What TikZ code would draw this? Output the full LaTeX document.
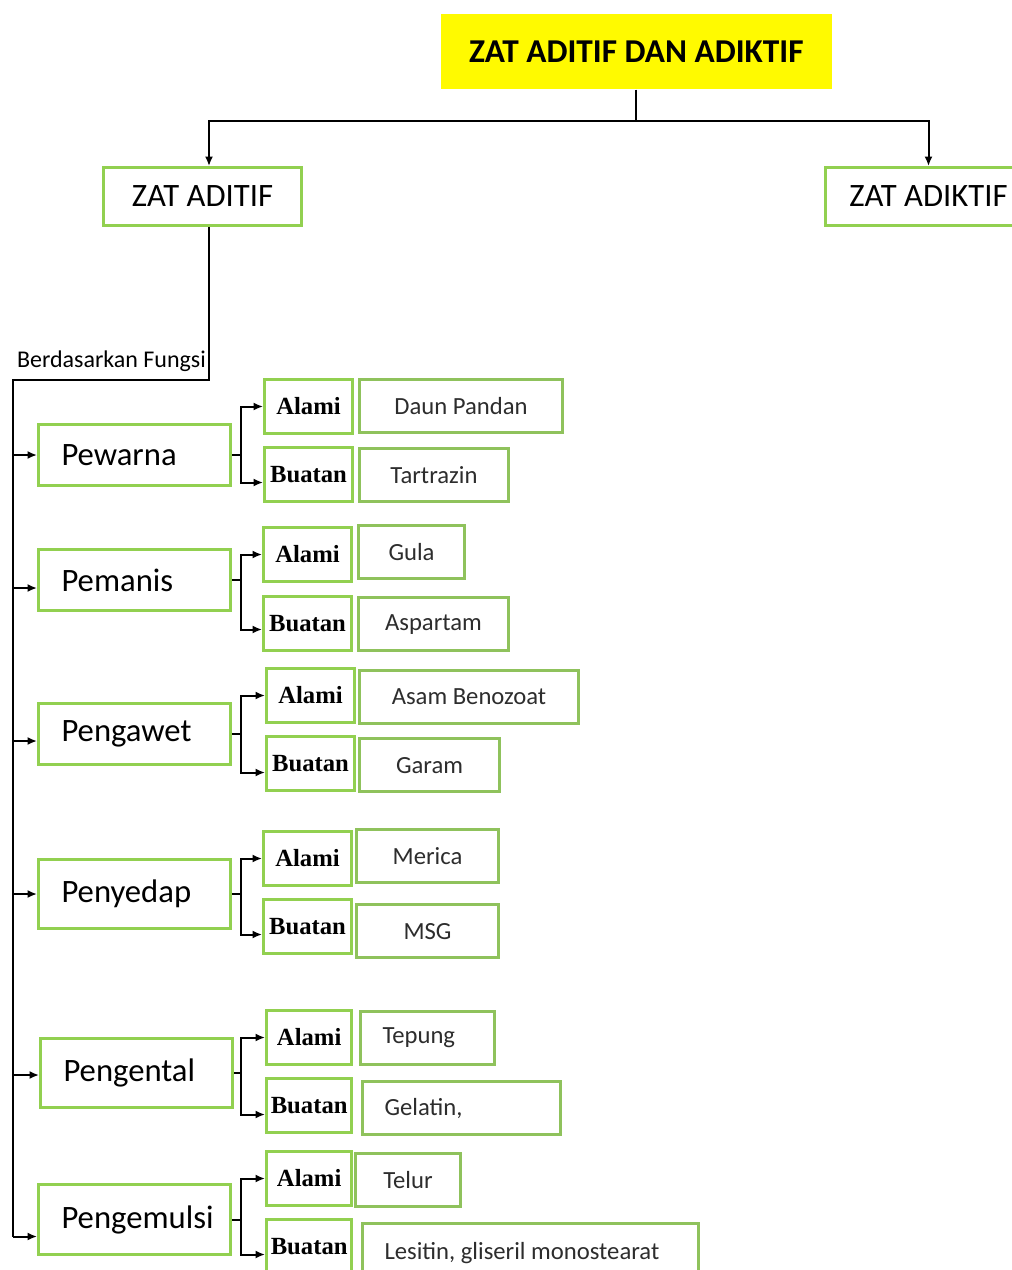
\documentclass[tikz,border=0pt]{standalone}
\usepackage{fontspec}
\setmainfont{Carlito}
\newfontfamily\kindfont{Liberation Serif}
\usepackage{tikz}
\usepackage{xcolor}
\usetikzlibrary{calc}
\usetikzlibrary{positioning, arrows.meta}

\definecolor{titleyellow}{RGB}{255,250,0}
\definecolor{boxgreen}{RGB}{146,208,80}
\definecolor{itemgreen}{RGB}{143,194,92}
\definecolor{itemtext}{RGB}{45,45,45}

\begin{document}
\begin{tikzpicture}[x=0.75pt, y=-0.75pt, >={Latex[length=7pt,width=6pt]}, line width=1.5pt,
                        title/.style={fill=titleyellow, minimum width=293pt, minimum height=56pt, font=\bfseries\fontsize{25}{30}\selectfont},
                        mainbox/.style={draw=boxgreen, line width=2.25pt, fill=white, minimum height=43.5pt, font=\fontsize{24.5}{29}\selectfont},
                        catbox/.style={draw=boxgreen, line width=2.25pt, fill=white, inner xsep=17.25pt, text width=109.5pt, align=flush left, font=\fontsize{24.5}{29}\selectfont},
                        kindbox/.style={draw=boxgreen, line width=2.25pt, fill=white, inner sep=0pt, minimum width=66pt, minimum height=40.5pt, font=\kindfont\bfseries\fontsize{18.5}{22}\selectfont},
                        itembox/.style={draw=itemgreen, line width=2.25pt, fill=white, inner sep=0pt, minimum height=40pt, text=itemtext, font=\fontsize{18.5}{22}\selectfont},
                        itemleft/.style={itembox, inner xsep=16.5pt, text width=#1, align=flush left}]
                        \useasboundingbox (0,0) rectangle (1011,1270);

                        % Define top level boxes
                        \node[title, anchor=north west] (title) at (440,13) {ZAT ADITIF DAN ADIKTIF};
                        \node[mainbox, minimum width=148.5pt, anchor=north west] (aditif) at (102,166) {ZAT ADITIF\hspace{8pt}};
                        \node[mainbox, minimum width=154.5pt, anchor=north west] (adiktif) at (824,166) {ZAT ADIKTIF};

                        % Helper points for the branch lines
                        \coordinate (split) at (636,121);
                        \coordinate (adx) at (209,0);
                        \coordinate (trunk) at (13,380);
                        \coordinate (bx) at (241,0);

                        % Draw the split under the title
                        \draw (title.south) -- (title.south |- split);
                        \draw[->] (title.south |- split) -| (aditif.north -| adx);
                        \draw[->] (title.south |- split) -| (adiktif.north);

                        % Define the function boxes
                        \node[catbox, minimum height=45.75pt, anchor=north west] (pewarna) at (37,423) {Pewarna};
                        \node[catbox, minimum height=45.75pt, anchor=north west] (pemanis) at (37,548) {Pemanis};
                        \node[catbox, minimum height=45.75pt, anchor=north west] (pengawet) at (37,702) {Pengawet};
                        \node[catbox, minimum height=51.75pt, anchor=north west] (penyedap) at (37,858) {Penyedap};
                        \node[catbox, minimum height=51.75pt, anchor=north west] (pengental) at (39,1037) {Pengental};
                        \node[catbox, minimum height=52.5pt, anchor=north west] (pengemulsi) at (37,1183) {Pengemulsi};

                        % Draw the trunk with its label
                        \node[anchor=base west, inner sep=0pt, font=\fontsize{18}{21}\selectfont] (fungsi) at (16,367) {Berdasarkan Fungsi};
                        \draw (aditif.south -| adx) |- (trunk) -- ($(pengemulsi.west -| trunk)+(0,17)$);
                        \draw[->] (pewarna.west -| trunk) -- (pewarna.west);
                        \draw[->] ($(pemanis.west -| trunk)+(0,8)$) -- ($(pemanis.west)+(0,8)$);
                        \draw[->] ($(pengawet.west -| trunk)+(0,7)$) -- ($(pengawet.west)+(0,7)$);
                        \draw[->] (penyedap.west -| trunk) -- (penyedap.west);
                        \draw[->] ($(pengental.west -| trunk)+(0,2)$) -- ($(pengental.west)+(0,2)$);
                        \draw[->] ($(pengemulsi.west -| trunk)+(0,17)$) -- ($(pengemulsi.west)+(0,17)$);

                        % Define Alami / Buatan boxes
                        \node[kindbox, anchor=north west] (pwA) at (263,378) {Alami};
                        \node[kindbox, anchor=north west] (pwB) at (263,446) {Buatan};
                        \node[kindbox, anchor=north west] (pmA) at (262,526) {Alami};
                        \node[kindbox, anchor=north west] (pmB) at (262,595) {Buatan};
                        \node[kindbox, anchor=north west] (pgA) at (265,667) {Alami};
                        \node[kindbox, anchor=north west] (pgB) at (265,735) {Buatan};
                        \node[kindbox, anchor=north west] (pyA) at (262,830) {Alami};
                        \node[kindbox, anchor=north west] (pyB) at (262,898) {Buatan};
                        \node[kindbox, minimum width=64pt, anchor=north west] (ptA) at (265,1009) {Alami};
                        \node[kindbox, minimum width=64pt, anchor=north west] (ptB) at (265,1077) {Buatan};
                        \node[kindbox, minimum width=64pt, anchor=north west] (peA) at (265,1150) {Alami};
                        \node[kindbox, minimum width=64pt, anchor=north west] (peB) at (265,1218) {Buatan};

                        % Define the example boxes
                        \node[itembox, minimum width=152.25pt, anchor=north west] (daun) at (358,378) {Daun Pandan};
                        \node[itembox, minimum width=111.75pt, anchor=north west] (tartrazin) at (358,447) {Tartrazin\hspace{6pt}};
                        \node[itembox, minimum width=79.5pt, anchor=north west] (gula) at (357,524) {Gula};
                        \node[itembox, minimum width=112.5pt, anchor=north west] (aspartam) at (357,596) {Aspartam};
                        \node[itembox, minimum width=164.25pt, anchor=north west] (benozoat) at (358,669) {Asam Benozoat};
                        \node[itembox, minimum width=105pt, anchor=north west] (garam) at (358,737) {Garam};
                        \node[itembox, minimum width=106.5pt, anchor=north west] (merica) at (355,828) {Merica};
                        \node[itembox, minimum width=106.5pt, anchor=north west] (msg) at (355,903) {MSG};
                        \node[itemleft=67.5pt, anchor=north west] (tepung) at (359,1010) {Tepung};
                        \node[itemleft=115.5pt, anchor=north west] (gelatin) at (361,1080) {Gelatin,};
                        \node[itembox, minimum width=78.75pt, anchor=north west] (telur) at (354,1152) {Telur};
                        \node[itemleft=219pt, minimum height=45pt, anchor=north west] (lesitin) at (361,1222) {Lesitin, gliseril monostearat};

                        % Draw the forks to Alami and Buatan
                        \draw (pewarna.east) -- (pewarna.east -| bx);
                        \draw[<->] (pwA.west) -- (pwA.west -| bx) |- ($(pwB.west)+(0,8)$);
                        \draw (pemanis.east) -- (pemanis.east -| bx);
                        \draw[<->] (pmA.west) -- (pmA.west -| bx) |- ($(pmB.west)+(0,6)$);
                        \draw (pengawet.east) -- (pengawet.east -| bx);
                        \draw[<->] (pgA.west) -- (pgA.west -| bx) |- ($(pgB.west)+(0,9)$);
                        \draw (penyedap.east) -- (penyedap.east -| bx);
                        \draw[<->] (pyA.west) -- (pyA.west -| bx) |- ($(pyB.west)+(0,8)$);
                        \draw (pengental.east) -- (pengental.east -| bx);
                        \draw[<->] (ptA.west) -- (ptA.west -| bx) |- ($(ptB.west)+(0,9)$);
                        \draw (pengemulsi.east) -- (pengemulsi.east -| bx);
                        \draw[<->] (peA.west) -- (peA.west -| bx) |- ($(peB.west)+(0,8)$);

                    \end{tikzpicture}
\end{document}
